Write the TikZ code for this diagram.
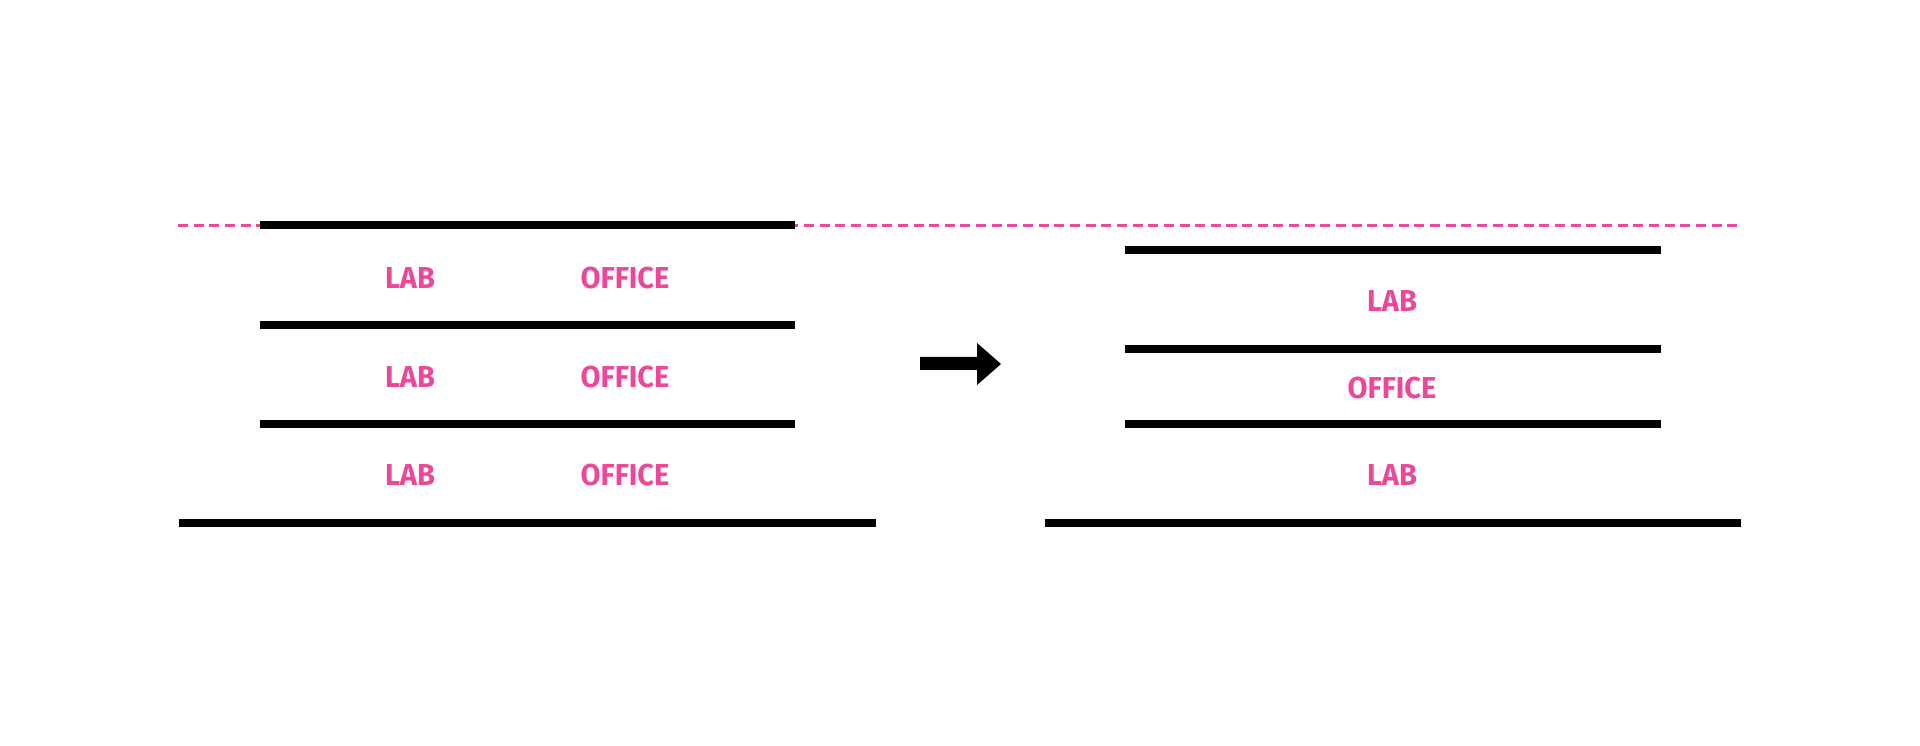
\documentclass[tikz,border=0pt]{standalone}
\usepackage{fontspec}
\setmainfont{Fira Sans}[FakeStretch=0.96]
\usetikzlibrary{calc}
\definecolor{hotpink}{RGB}{236,72,153}
\tikzset{slab/.style={line width=2.1pt},
         room/.style={text=hotpink,font=\fontsize{8.6}{10}\bfseries\selectfont,inner sep=0pt}}

\begin{document}
\begin{tikzpicture}[x=0.01cm,y=-0.01cm]
                 \useasboundingbox (0,0) rectangle (1920,746);
                 % height limit
                 \draw[hotpink,line width=0.85pt,dash pattern=on 2.85pt off 1.6pt] (178,226) -- (1741,226);
                 % before: mixed floors
                 \foreach \y in {225,325,424}
                   \draw[slab] (260,\y) -- (795,\y);
                 \draw[slab] (179,523) -- (876,523);
                 \foreach \y/\n in {278/1,377/2,475/3} {
                   \node[room](lab\n)at(410,\y){LAB};
                   \node[room](office\n)at(625,\y){OFFICE};
                 }
                 % arrow
                 \fill (920,357) -- (977,357) -- (977,343) -- (1001,364) -- (977,385) -- (977,370) -- (920,370) -- cycle;
                 % after: stacked floors
                 \foreach \y in {250,349,424}
                   \draw[slab] (1125,\y) -- (1661,\y);
                 \draw[slab] (1045,523) -- (1741,523);
                 \node[room](labtop)at(1392,301){LAB};
                 \node[room](officemid)at(1392,388){OFFICE};
                 \node[room](labbottom)at(1392,475){LAB};
               \end{tikzpicture}
\end{document}
